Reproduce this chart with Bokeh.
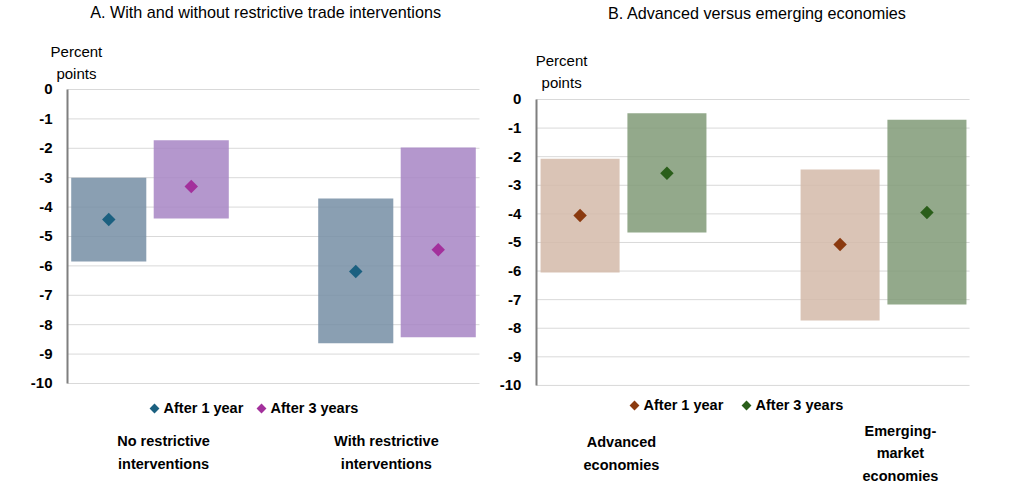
import math
from bokeh.plotting import figure
from bokeh.layouts import row
from bokeh.models import Range1d, FixedTicker, ColumnDataSource
from bokeh.core.properties import value
from bokeh.embed import file_html
from bokeh.resources import INLINE

FONT = "Liberation Sans"

# ---------------- data ----------------
series_names = ["After 1 year", "After 3 years"]
y_ticks = [0, -1, -2, -3, -4, -5, -6, -7, -8, -9, -10]
y_tick_labels = ["0", "-1", "-2", "-3", "-4", "-5", "-6", "-7", "-8", "-9", "-10"]

a_title = "A. With and without restrictive trade interventions"
a_categories = ["No restrictive\ninterventions", "With restrictive\ninterventions"]
a_1y_point = [-4.42, -6.19]
a_1y_low = [-5.85, -8.63]
a_1y_high = [-3.00, -3.71]
a_3y_point = [-3.30, -5.45]
a_3y_low = [-4.39, -8.43]
a_3y_high = [-1.73, -1.97]

b_title = "B. Advanced versus emerging economies"
b_categories = ["Advanced\neconomies", "Emerging-\nmarket\neconomies"]
b_1y_point = [-4.06, -5.07]
b_1y_low = [-6.05, -7.73]
b_1y_high = [-2.07, -2.45]
b_3y_point = [-2.58, -3.95]
b_3y_low = [-4.65, -7.17]
b_3y_high = [-0.48, -0.71]

unit_label = "Percent\npoints"


def panel(title, cats, s1, s2, box_colors, pt_colors, canvas_w, frame_h, xr, yr,
          plot_x, title_pos, unit_pos, cat_dx, cat_y, leg_x, leg_y):
    p = figure(frame_width=canvas_w, frame_height=frame_h, output_backend="svg",
               toolbar_location=None, x_range=Range1d(*xr), y_range=Range1d(*yr),
               min_border=0, min_border_left=0, min_border_right=0,
               min_border_top=0, min_border_bottom=0)
    p.outline_line_color = None
    p.background_fill_color = "white"
    p.border_fill_color = "white"
    p.xaxis.visible = False
    p.xgrid.visible = False
    p.ygrid.visible = False

    # y axis placed at the left edge of the plotting area
    ax = p.yaxis[0]
    ax.fixed_location = plot_x[0]
    ax.bounds = (min(y_ticks), max(y_ticks))
    ax.ticker = FixedTicker(ticks=y_ticks)
    ax.major_label_overrides = {t: s for t, s in zip(y_ticks, y_tick_labels)}
    ax.axis_line_color = "#7f7f7f"
    ax.axis_line_width = 2
    ax.major_tick_line_color = None
    ax.minor_tick_line_color = None
    ax.major_tick_out = 0
    ax.major_tick_in = 0
    ax.minor_tick_out = 0
    ax.major_label_standoff = 15
    ax.major_label_text_font = FONT
    ax.major_label_text_font_size = "15px"
    ax.major_label_text_font_style = "bold"
    ax.major_label_text_color = "black"

    # horizontal grid lines across the plotting area
    p.segment(x0=[plot_x[0]] * len(y_ticks), y0=y_ticks,
              x1=[plot_x[1]] * len(y_ticks), y1=y_ticks,
              line_color="#d9d9d9", line_width=1)

    offsets = [-0.167, 0.167]
    for k, (pts, lo, hi) in enumerate([s1, s2]):
        xs = [i + offsets[k] for i in range(len(cats))]
        src = ColumnDataSource(dict(x=xs, pt=pts, lo=lo, hi=hi))
        p.vbar(x="x", width=0.304, top="hi", bottom="lo", source=src,
               fill_color=box_colors[k], fill_alpha=0.85, line_color=None)
        p.scatter(x="x", y="pt", source=src, marker="square", angle=math.pi / 4,
                  size=9.5, fill_color=pt_colors[k], line_color=None)

    # legend (marker + label)
    p.scatter(x=[leg_x[0], leg_x[2]], y=[leg_y, leg_y], marker="square",
              angle=math.pi / 4, size=7, fill_color=pt_colors, line_color=None)
    p.text(x=[leg_x[1], leg_x[3]], y=[leg_y, leg_y], text=series_names,
           text_align="left", text_baseline="middle", text_font=value(FONT),
           text_font_size="14.5px", text_font_style="bold", text_color="black")

    # titles and labels
    p.text(x=[title_pos[0]], y=[title_pos[1]], text=[title], text_align="center",
           text_baseline="middle", text_font=value(FONT), text_font_size="16.2px",
           text_color="black")
    p.text(x=[i + cat_dx[i] for i in range(len(cats))], y=[cat_y] * len(cats), text=cats,
           text_align="center", text_baseline="middle", text_font=value(FONT),
           text_font_size="14.5px", text_font_style="bold", text_color="black",
           text_line_height=1.4)
    p.text(x=[unit_pos[0]], y=[unit_pos[1]], text=[unit_label], text_align="center",
           text_baseline="middle", text_font=value(FONT), text_font_size="15px",
           text_color="black", text_line_height=1.3)
    return p


pa = panel(a_title, a_categories, (a_1y_point, a_1y_low, a_1y_high),
           (a_3y_point, a_3y_low, a_3y_high),
           ["#758ea4", "#a785c4"], ["#1b6080", "#a3309c"],
           491, 485, (-0.6053, 1.3826), (-13.47, 3.027), (-0.334, 1.334),
           (0.468, 2.62), (-0.298, 0.92), [0.055, -0.043], -12.35,
           [0.0182, 0.0547, 0.4514, 0.4879], -10.85)

pb = panel(b_title, b_categories, (b_1y_point, b_1y_low, b_1y_high),
           (b_3y_point, b_3y_low, b_3y_high),
           ["#d4baa9", "#809a77"], ["#8b3a0f", "#2a5e1a"],
           512, 485, (-0.5077, 1.4615), (-13.50, 3.462), (-0.335, 1.331),
           (0.515, 3.04), (-0.238, 0.98), [-0.008, 0.065], -12.38,
           [0.0423, 0.0769, 0.4731, 0.5077], -10.70)

layout = row(pa, pb)
open("out.html", "w").write(file_html(layout, INLINE))
